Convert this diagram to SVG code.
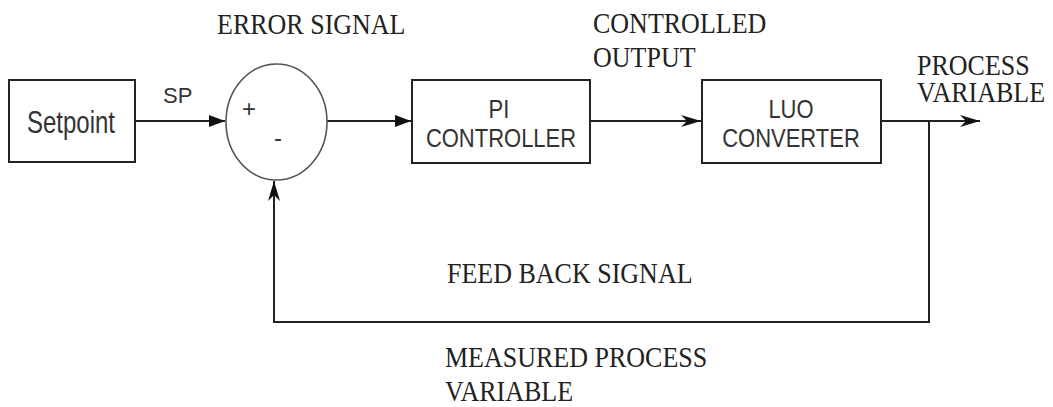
<svg xmlns="http://www.w3.org/2000/svg" width="1053" height="407" viewBox="0 0 1053 407">
<style>
.box{fill:#fff;stroke:#222;stroke-width:2}
.sum{fill:#fff;stroke:#555;stroke-width:1.6}
.wire{fill:none;stroke:#222;stroke-width:2}
.sans{font-family:"Liberation Sans",Arial,sans-serif;fill:#333}
.serif{font-family:"Liberation Serif","Times New Roman",serif;fill:#222;font-size:26px}
</style>
<defs>
<marker id="tri" markerUnits="userSpaceOnUse" markerWidth="18" markerHeight="14" refX="16" refY="7" orient="auto">
<path d="M0,1 L16,7 L0,13 z" fill="#111"/>
</marker>
<marker id="barb" markerUnits="userSpaceOnUse" markerWidth="22" markerHeight="14" refX="20" refY="7" orient="auto">
<path d="M0,1 L20,7 L0,13 L6,7 z" fill="#111"/>
</marker>
</defs>
<rect width="1053" height="407" fill="#fff"/>
<g id="connectors">
<path class="wire" d="M135,121 H225" marker-end="url(#tri)"/>
<path class="wire" d="M327,121 H411" marker-end="url(#tri)"/>
<path class="wire" d="M590,121 H701" marker-end="url(#barb)"/>
<path class="wire" d="M881,121 H980" marker-end="url(#barb)"/>
<path class="wire" d="M929,121 V322 H274 V181" marker-end="url(#barb)"/>
</g>
<g id="setpoint">
<rect class="box" x="9" y="80" width="126" height="82"/>
<text class="sans" transform="translate(71,133) scale(1,1.28)" text-anchor="middle" font-size="24">Setpoint</text>
</g>
<g id="summer">
<ellipse class="sum" cx="276.5" cy="122" rx="50.5" ry="58"/>
<text class="sans" x="249" y="117" text-anchor="middle" font-size="24">+</text>
<text class="sans" x="278" y="146" text-anchor="middle" font-size="24">-</text>
</g>
<g id="pi">
<rect class="box" x="412" y="80" width="178" height="83"/>
<text class="sans" transform="translate(499,118) scale(1,1.2)" text-anchor="middle" font-size="22">PI</text>
<text class="sans" transform="translate(501,147) scale(1,1.2)" text-anchor="middle" font-size="22">CONTROLLER</text>
</g>
<g id="luo">
<rect class="box" x="702" y="80" width="179" height="83"/>
<text class="sans" transform="translate(791,118) scale(1,1.2)" text-anchor="middle" font-size="22">LUO</text>
<text class="sans" transform="translate(791,147) scale(1,1.2)" text-anchor="middle" font-size="22">CONVERTER</text>
</g>
<g id="labels">
<text class="sans" x="163" y="103" font-size="22">SP</text>
<text class="serif" transform="translate(217,34) scale(1,1.1)">ERROR SIGNAL</text>
<text class="serif" transform="translate(593,33) scale(1,1.1)">CONTROLLED</text>
<text class="serif" transform="translate(593,67) scale(1,1.1)">OUTPUT</text>
<text class="serif" transform="translate(917,75) scale(1,1.1)">PROCESS</text>
<text class="serif" transform="translate(917,102) scale(1,1.1)">VARIABLE</text>
<text class="serif" transform="translate(447,283) scale(1,1.1)">FEED BACK SIGNAL</text>
<text class="serif" transform="translate(445,367) scale(1,1.1)">MEASURED PROCESS</text>
<text class="serif" transform="translate(445,401) scale(1,1.1)">VARIABLE</text>
</g>
</svg>
